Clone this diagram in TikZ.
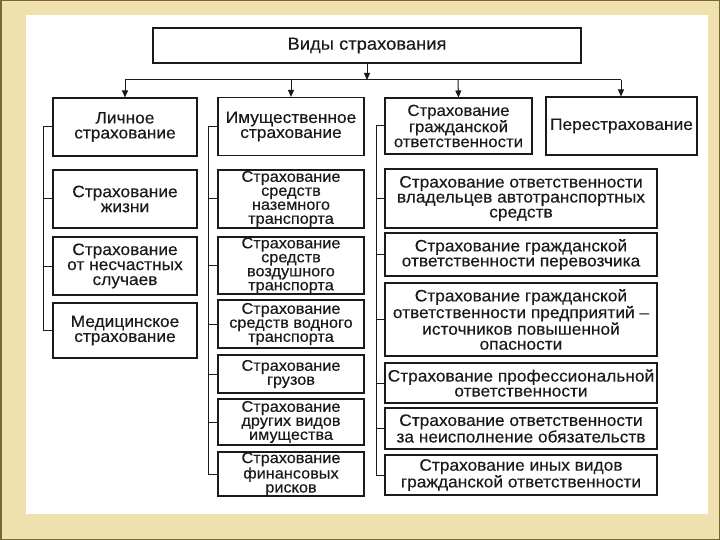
\documentclass[tikz,border=0pt]{standalone}
\usepackage{fontspec}
\setmainfont[FakeStretch=1.05,FakeBold=0.3]{Liberation Sans}
\usetikzlibrary{arrows.meta}
\definecolor{frame}{HTML}{EFE1AE}
\definecolor{frameedge}{HTML}{7A6634}
\definecolor{ink}{HTML}{1A1A1A}
\tikzset{
  box/.style={draw=ink, line width=1.1pt, text=ink, align=center, inner sep=0pt,
    font=\fontsize{16.5}{15}\selectfont},
  tight/.style={font=\fontsize{15.5}{14}\selectfont},
  conn/.style={draw=ink, line width=1pt},
  arr/.style={conn, -{Triangle[length=7pt,width=6pt]}},
}
\begin{document}
\begin{tikzpicture}[x=1pt,y=-1pt]
\useasboundingbox (0,0) rectangle (720,540);
\fill[frame] (0,0) rectangle (720,540);
\draw[frameedge, line width=1.5pt] (0.75,0.75) rectangle (719.25,539.25);
\fill[white] (26,15) rectangle (708,514);
% top
\node[box, font=\fontsize{17.5}{16}\selectfont, minimum width=428pt, minimum height=35pt] (top) at (367,45.5) {Виды страхования};
% level 1
\node[box, minimum width=144pt, minimum height=58pt] (L) at (125,127) {Личное\\страхование};
\node[box, minimum width=146pt, minimum height=58pt] (M) at (291,126.5) {Имущественное\\страхование};
\node[box, font=\fontsize{16}{15}\selectfont, minimum width=147pt, minimum height=56pt] (R) at (458.5,126) {Страхование\\гражданской\\ответственности};
\node[box, minimum width=151pt, minimum height=58pt] (P) at (621.5,126) {Перестрахование};
% left column
\node[box, minimum width=144pt, minimum height=58pt] (L1) at (125,199) {Страхование\\жизни};
\node[box, minimum width=144pt, minimum height=58pt] (L2) at (125,266) {Страхование\\от несчастных\\случаев};
\node[box, minimum width=144pt, minimum height=55pt] (L3) at (125,330.5) {Медицинское\\страхование};
% middle column
\node[box, tight, minimum width=146pt, minimum height=58pt] (M1) at (291,199) {Страхование\\средств\\наземного\\транспорта};
\node[box, tight, minimum width=146pt, minimum height=57pt] (M2) at (291,265.5) {Страхование\\средств\\воздушного\\транспорта};
\node[box, tight, minimum width=146pt, minimum height=48pt] (M3) at (291,324) {Страхование\\средств водного\\транспорта};
\node[box, tight, minimum width=146pt, minimum height=38pt] (M4) at (291,374) {Страхование\\грузов};
\node[box, tight, minimum width=146pt, minimum height=46pt] (M5) at (291,422) {Страхование\\других видов\\имущества};
\node[box, tight, minimum width=146pt, minimum height=44pt] (M6) at (291,474) {Страхование\\финансовых\\рисков};
% right column
\node[box, minimum width=272pt, minimum height=59pt] (R1) at (521,198.5) {Страхование ответственности\\владельцев автотранспортных\\средств};
\node[box, minimum width=272pt, minimum height=43pt] (R2) at (521,254.5) {Страхование гражданской\\ответственности перевозчика};
\node[box, minimum width=272pt, minimum height=73pt] (R3) at (521,319.5) {Страхование гражданской\\ответственности предприятий –\\источников повышенной\\опасности};
\node[box, minimum width=272pt, minimum height=40pt] (R4) at (521,383) {Страхование профессиональной\\ответственности};
\node[box, minimum width=272pt, minimum height=41pt] (R5) at (521,428.5) {Страхование ответственности\\за неисполнение обязательств};
\node[box, minimum width=272pt, minimum height=40pt] (R6) at (521,475) {Страхование иных видов\\гражданской ответственности};
% top distribution
\coordinate (hL) at (125,80);
\coordinate (hR) at (621,80);
\draw[arr] (top.south) -- (top.south |- hL);
\draw[conn] (hL) -- (hR);
\draw[arr] (hL) -- (L.north);
\draw[arr] (291,80) -- (M.north);
\draw[arr] (458,80) -- (R.north);
\draw[arr] (hR) -- (hR |- P.north);
% left bracket
\coordinate (bL) at (43,0);
\draw[conn] (L.west) -| (bL |- L3.west) -- (L3.west);
\foreach \n in {L1,L2} \draw[conn] (bL |- \n.west) -- (\n.west);
% middle bracket
\coordinate (bM) at (208,0);
\draw[conn] (M.west) -| (bM |- M6.west) -- (M6.west);
\foreach \n in {M1,M2,M3,M4,M5} \draw[conn] (bM |- \n.west) -- (\n.west);
% right bracket
\coordinate (bR) at (376,0);
\draw[conn] (R.west) -| (bR |- R6.west) -- (R6.west);
\foreach \n in {R1,R2,R3,R4,R5} \draw[conn] (bR |- \n.west) -- (\n.west);
\end{tikzpicture}
\end{document}
